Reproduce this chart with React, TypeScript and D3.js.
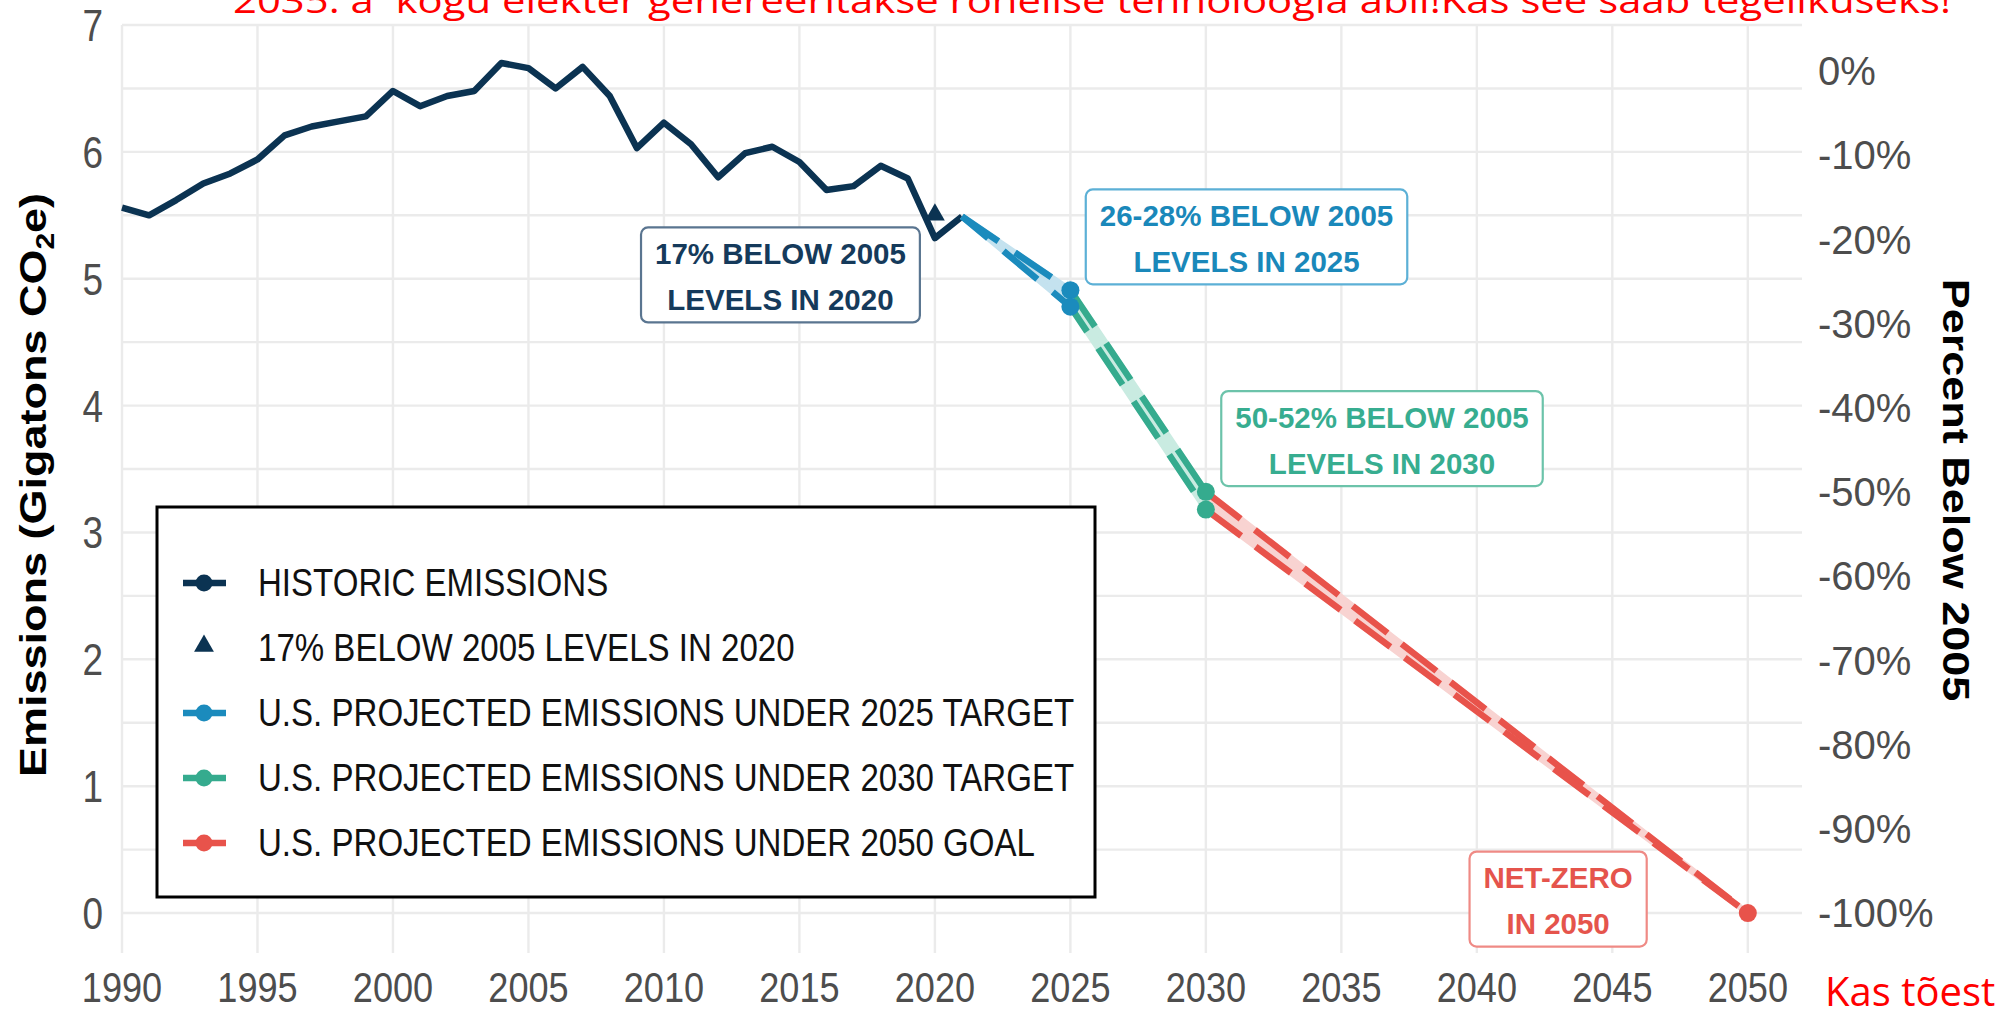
import React, { useRef, useEffect } from "react";
import * as d3 from "d3";

// historic U.S. net emissions (Gt CO2e)
const historicYears = [
  1990, 1991, 1992, 1993, 1994, 1995, 1996, 1997, 1998, 1999, 2000, 2001, 2002,
  2003, 2004, 2005, 2006, 2007, 2008, 2009, 2010, 2011, 2012, 2013, 2014, 2015,
  2016, 2017, 2018, 2019, 2020, 2021,
];
const historicValues = [
  5.56, 5.5, 5.62, 5.75, 5.83, 5.94, 6.13, 6.2, 6.24, 6.28, 6.48, 6.36, 6.44,
  6.48, 6.7, 6.66, 6.5, 6.67, 6.44, 6.03, 6.23, 6.06, 5.8, 5.99, 6.04, 5.92,
  5.7, 5.73, 5.89, 5.79, 5.32, 5.49,
];

const target2020Year = 2020;
const target2020Value = 5.52;

// projections: [start, end] with a high and low edge
const years2025 = [2021, 2025];
const high2025 = [5.49, 4.91];
const low2025 = [5.49, 4.78];
const years2030 = [2025, 2030];
const high2030 = [4.91, 3.32];
const low2030 = [4.78, 3.18];
const years2050 = [2030, 2050];
const high2050 = [3.32, 0];
const low2050 = [3.18, 0];

const base2005 = 6.635;
const xTicks = [1990, 1995, 2000, 2005, 2010, 2015, 2020, 2025, 2030, 2035, 2040, 2045, 2050];
const yTicks = [0, 1, 2, 3, 4, 5, 6, 7];
const pctTicks = [0, -10, -20, -30, -40, -50, -60, -70, -80, -90, -100];

const legendLabels = [
  "HISTORIC EMISSIONS",
  "17% BELOW 2005 LEVELS IN 2020",
  "U.S. PROJECTED EMISSIONS UNDER 2025 TARGET",
  "U.S. PROJECTED EMISSIONS UNDER 2030 TARGET",
  "U.S. PROJECTED EMISSIONS UNDER 2050 GOAL",
];

const labelLines2020 = ["17% BELOW 2005", "LEVELS IN 2020"];
const labelLines2025 = ["26-28% BELOW 2005", "LEVELS IN 2025"];
const labelLines2030 = ["50-52% BELOW 2005", "LEVELS IN 2030"];
const labelLines2050 = ["NET-ZERO", "IN 2050"];

const overlayTitle =
  "2035. a  kogu elekter genereeritakse rohelise tehnoloogia abil!Kas see saab tegelikuseks!";
const overlayCorner = "Kas tõest";

const NAVY = "#0b3352";
const BLUE = "#1b8bbd";
const GREEN = "#35ab8e";
const RED = "#e8534b";
const FONT = "'Liberation Sans', Arial, sans-serif";

const App = () => {
  const ref = useRef(null);

  useEffect(() => {
    const svg = d3.select(ref.current);
    svg.selectAll("*").remove();

    const x = d3.scaleLinear().domain([1990, 2052]).range([122, 1802]);
    const y = d3.scaleLinear().domain([-0.315, 7]).range([953, 25]);
    const yPct = d3.scaleLinear().domain([-100, 0]).range([y(0), y(base2005)]);

    // grid
    const grid = svg.append("g");
    grid
      .selectAll("line.h")
      .data(d3.range(0, 7.01, 0.5))
      .join("line")
      .attr("x1", 122)
      .attr("x2", 1802)
      .attr("y1", (d) => y(d))
      .attr("y2", (d) => y(d))
      .attr("stroke", "#ebebeb")
      .attr("stroke-width", 2.4);
    grid
      .selectAll("line.v")
      .data(xTicks)
      .join("line")
      .attr("x1", (d) => x(d))
      .attr("x2", (d) => x(d))
      .attr("y1", 25)
      .attr("y2", 953)
      .attr("stroke", "#ebebeb")
      .attr("stroke-width", 2.4);

    // axis labels
    xTicks.forEach((t) => {
      svg
        .append("g")
        .attr("transform", `translate(${x(t)},1002) scale(0.86,1)`)
        .append("text")
        .attr("text-anchor", "middle")
        .attr("font-family", FONT)
        .attr("font-size", 42)
        .attr("fill", "#4d4d4d")
        .text(t);
    });
    yTicks.forEach((t) => {
      svg
        .append("g")
        .attr("transform", `translate(103,${y(t) + 16}) scale(0.84,1)`)
        .append("text")
        .attr("text-anchor", "end")
        .attr("font-family", FONT)
        .attr("font-size", 44)
        .attr("fill", "#4d4d4d")
        .text(t);
    });
    pctTicks.forEach((t) => {
      svg
        .append("text")
        .attr("x", 1818)
        .attr("y", yPct(t) + 14)
        .attr("font-family", FONT)
        .attr("font-size", 40)
        .attr("fill", "#4d4d4d")
        .text(`${t}%`);
    });

    // axis titles
    const lt = svg
      .append("g")
      .attr("transform", "translate(46,485) scale(0.84,1) rotate(-90)")
      .append("text")
      .attr("text-anchor", "middle")
      .attr("font-family", FONT)
      .attr("font-weight", "bold")
      .attr("font-size", 45)
      .attr("fill", "#000");
    lt.append("tspan").text("Emissions (Gigatons CO");
    lt.append("tspan").attr("font-size", 30).attr("dy", 9).text("2");
    lt.append("tspan").attr("dy", -9).text("e)");

    svg
      .append("g")
      .attr("transform", "translate(1943,490) scale(0.84,1) rotate(90)")
      .append("text")
      .attr("text-anchor", "middle")
      .attr("font-family", FONT)
      .attr("font-weight", "bold")
      .attr("font-size", 45)
      .attr("fill", "#000")
      .text("Percent Below 2005");

    // historic line
    const line = d3
      .line()
      .x((d) => x(d[0]))
      .y((d) => y(d[1]));
    svg
      .append("path")
      .datum(historicYears.map((yr, i) => [yr, historicValues[i]]))
      .attr("fill", "none")
      .attr("stroke", NAVY)
      .attr("stroke-width", 6.5)
      .attr("stroke-linejoin", "round")
      .attr("d", line);

    // projections
    const area = d3
      .area()
      .x((d) => x(d.year))
      .y0((d) => y(d.lo))
      .y1((d) => y(d.hi));
    const projections = [
      { years: years2050, hi: high2050, lo: low2050, color: RED, ribbon: "#f8d3d1", dash: "44 18", off: 0 },
      { years: years2030, hi: high2030, lo: low2030, color: GREEN, ribbon: "#c9ebe1", dash: "44 20", off: 14 },
      { years: years2025, hi: high2025, lo: low2025, color: BLUE, ribbon: "#c4e2ef", dash: "44 20", off: 10 },
    ];
    projections.forEach((p) => {
      const rows = p.years.map((yr, i) => ({ year: yr, hi: p.hi[i], lo: p.lo[i] }));
      svg
        .append("path")
        .datum(rows)
        .attr("fill", p.ribbon)
        .attr("stroke", p.ribbon)
        .attr("stroke-width", 6)
        .attr("d", area);
      [p.hi, p.lo].forEach((vals, k) => {
        svg
          .append("path")
          .datum(p.years.map((yr, i) => [yr, vals[i]]))
          .attr("fill", "none")
          .attr("stroke", p.color)
          .attr("stroke-width", 6.5)
          .attr("stroke-dasharray", p.dash)
          .attr("stroke-dashoffset", k * p.off)
          .attr("d", line);
      });
      const endYear = p.years[p.years.length - 1];
      const ends = Array.from(new Set([p.hi[p.hi.length - 1], p.lo[p.lo.length - 1]]));
      svg
        .selectAll(null)
        .data(ends)
        .join("circle")
        .attr("cx", x(endYear))
        .attr("cy", (d) => y(d))
        .attr("r", 9)
        .attr("fill", p.color);
    });

    // 2020 target triangle
    svg
      .append("path")
      .attr("d", d3.symbol(d3.symbolTriangle, 170)())
      .attr("transform", `translate(${x(target2020Year)},${y(target2020Value) + 2})`)
      .attr("fill", NAVY);

    // annotation boxes
    const notes = [
      { lines: labelLines2020, year: 2014.3, value: 5.03, text: "#153a5b", border: "#5a7590" },
      { lines: labelLines2025, year: 2031.5, value: 5.33, text: "#1a88ba", border: "#5cb0d6" },
      { lines: labelLines2030, year: 2036.5, value: 3.74, text: "#37ad90", border: "#6cc3aa" },
      { lines: labelLines2050, year: 2043.0, value: 0.11, text: "#e5544c", border: "#ef8a85" },
    ];
    notes.forEach((n) => {
      const cx = x(n.year);
      const cy = y(n.value);
      const g = svg.append("g");
      const rect = g.append("rect");
      const texts = n.lines.map((s, i) =>
        g
          .append("text")
          .attr("x", cx)
          .attr("y", cy - 11 + i * 46)
          .attr("text-anchor", "middle")
          .attr("font-family", FONT)
          .attr("font-weight", "bold")
          .attr("font-size", 29.5)
          .attr("fill", n.text)
          .text(s)
      );
      const w = d3.max(texts, (t) => t.node().getComputedTextLength()) + 28;
      rect
        .attr("x", cx - w / 2)
        .attr("y", cy - 47.5)
        .attr("width", w)
        .attr("height", 95)
        .attr("rx", 7)
        .attr("fill", "#fff")
        .attr("stroke", n.border)
        .attr("stroke-width", 2.2);
    });

    // legend
    const lg = svg.append("g");
    lg.append("rect")
      .attr("x", 157)
      .attr("y", 507)
      .attr("width", 938)
      .attr("height", 390)
      .attr("fill", "#fff")
      .attr("stroke", "#000")
      .attr("stroke-width", 3);
    const keyColors = [NAVY, NAVY, BLUE, GREEN, RED];
    legendLabels.forEach((lab, i) => {
      const ky = 583 + i * 65;
      if (i === 1) {
        lg.append("path")
          .attr("d", d3.symbol(d3.symbolTriangle, 170)())
          .attr("transform", `translate(204,${ky - 2})`)
          .attr("fill", NAVY);
      } else {
        lg.append("line")
          .attr("x1", 183)
          .attr("x2", 226)
          .attr("y1", ky)
          .attr("y2", ky)
          .attr("stroke", keyColors[i])
          .attr("stroke-width", 6.5);
        lg.append("circle").attr("cx", 204).attr("cy", ky).attr("r", 8.5).attr("fill", keyColors[i]);
      }
      lg.append("g")
        .attr("transform", `translate(258,${ky + 13}) scale(0.87,1)`)
        .append("text")
        .attr("font-family", FONT)
        .attr("font-size", 38)
        .attr("fill", "#111")
        .text(lab);
    });

    // red overlay text from the slide
    svg
      .append("text")
      .attr("x", 233)
      .attr("y", 13)
      .attr("font-family", "'Open Sans', sans-serif")
      .attr("font-size", 35)
      .attr("fill", "#ff0000")
      .attr("textLength", 1718)
      .attr("lengthAdjust", "spacingAndGlyphs")
      .style("white-space", "pre")
      .text(overlayTitle);
    svg
      .append("text")
      .attr("x", 1825)
      .attr("y", 1006)
      .attr("font-family", "'Open Sans', sans-serif")
      .attr("font-size", 40)
      .attr("fill", "#ff0000")
      .text(overlayCorner);
  }, []);

  return (
    <>
      <style>{"body{margin:0}"}</style>
      <svg ref={ref} width={2001} height={1011} style={{ display: "block", background: "#fff" }}></svg>
    </>
  );
};

export default App;
